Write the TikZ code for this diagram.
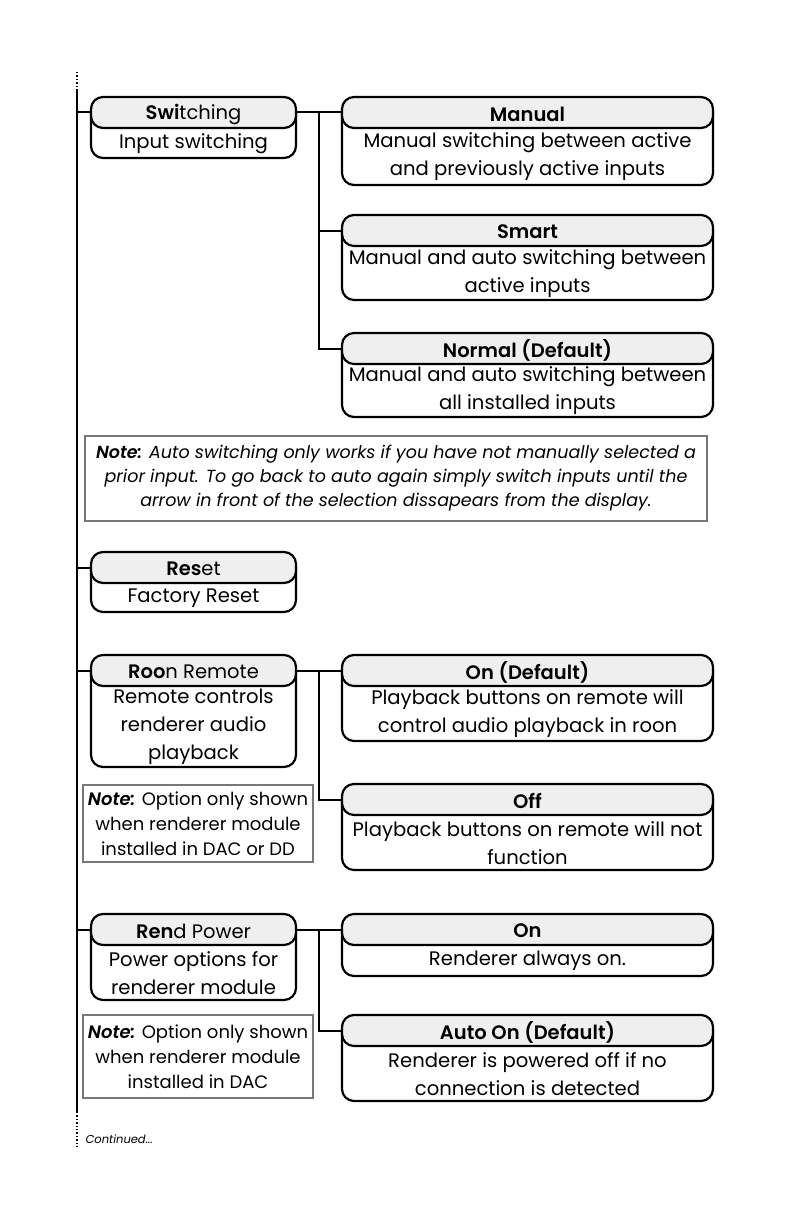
\documentclass[tikz,border=0pt]{standalone}
\usepackage{fontspec}
\setmainfont{Poppins}[BoldFont={Poppins SemiBold}, BoldItalicFont={Poppins SemiBold Italic}]
\usetikzlibrary{calc}
\definecolor{headgray}{HTML}{EFEFEF}
\definecolor{notegray}{HTML}{777777}
\tikzset{
  boxline/.style={line width=2.2pt, line join=round},
  conn/.style={line width=2pt},
  mainline/.style={line width=2.5pt},
  dotline/.style={line width=2pt, dash pattern=on 1.4pt off 2pt},
  notebox/.style={draw=notegray, line width=1.3pt, inner sep=0pt},
  headtext/.style={font=\fontsize{19.5}{24}\selectfont},
  bodytext/.style={font=\fontsize{19.6}{28}\selectfont, align=center},
  notetext/.style={font=\fontsize{17.5}{24}\selectfont\itshape, align=center},
  smallnote/.style={font=\fontsize{18}{25}\selectfont, align=center},
}
% name, x1, y1, x2, y2, header, body
\newcommand{\menubox}[7]{
  \draw[boxline, fill=white, rounded corners=12pt] (#2,#3+15) -- (#2,#5) -- (#4,#5) -- (#4,#3+15);
  \draw[boxline, fill=headgray, rounded corners=12pt] (#2,#3) rectangle (#4,#3+31);
  \node[headtext] (#1-head) at ({(#2+#4)/2},#3+17) {#6};
  \node[bodytext] (#1-body) at ({(#2+#4)/2},{(#3+32+#5)/2}) {#7};
  \coordinate (#1-w) at (#2,#3+15.5);
  \coordinate (#1-e) at (#4,#3+15.5);
}
\begin{document}
\begin{tikzpicture}[x=1pt, y=-1pt]
\useasboundingbox (0,0) rectangle (793,1225);

\coordinate (dottop) at (77,72);
\coordinate (top) at (77,90);
\coordinate (bot) at (77,1112);
\coordinate (dotbot) at (77,1149);
\draw[dotline] (dottop) -- (top);
\draw[mainline] (top) -- (bot);
\draw[dotline] (bot) -- (dotbot);

% left column
\menubox{sw}{91}{97}{296}{158}{\textbf{Swi}tching}{Input switching}
\menubox{res}{91}{552}{296}{612}{\textbf{Res}et}{Factory Reset}
\menubox{roon}{91}{655}{296}{767}{\textbf{Roo}n Remote}{Remote controls\\renderer audio\\playback}
\menubox{rend}{91}{914}{296}{1000}{\textbf{Ren}d Power}{Power options for\\renderer module}

% right column
\menubox{man}{342}{97}{713}{185}{\textbf{Manual}}{Manual switching between active\\and previously active inputs}
\menubox{sma}{342}{215}{713}{300}{\textbf{Smart}}{Manual and auto switching between\\active inputs}
\menubox{nor}{342}{333}{713}{417}{\textbf{Normal (Default)}}{Manual and auto switching between\\all installed inputs}
\menubox{ondef}{342}{655}{713}{741}{\textbf{On (Default)}}{Playback buttons on remote will\\control audio playback in roon}
\menubox{off}{342}{784}{713}{870}{\textbf{Off}}{Playback buttons on remote will not\\function}
\menubox{on}{342}{914}{713}{976}{\textbf{On}}{Renderer always on.}
\menubox{auto}{342}{1015}{713}{1101}{\textbf{Auto On (Default)}}{Renderer is powered off if no\\connection is detected}

% notes
\node[notebox, notetext, minimum width=622pt, minimum height=85pt] (note1) at (396,478.5)
  {\textbf{Note:} Auto switching only works if you have not manually selected a\\
   prior input. To go back to auto again simply switch inputs until the\\
   arrow in front of the selection dissapears from the display.};
\node[notebox, smallnote, minimum width=230pt, minimum height=77pt] (note2) at (198,823.5)
  {\textbf{\itshape Note:} Option only shown\\when renderer module\\installed in DAC or DD};
\node[notebox, smallnote, minimum width=230pt, minimum height=83pt] (note3) at (198,1056.5)
  {\textbf{\itshape Note:} Option only shown\\when renderer module\\installed in DAC};

\node[font=\fontsize{11.5}{14}\selectfont\itshape, anchor=west] (cont) at (82,1139) {Continued...};

% connectors
\foreach \b in {sw,res,roon,rend} {
  \draw[conn] (\b-w -| top) -- (\b-w);
}
\foreach \src/\first/\last in {sw/man/nor, roon/ondef/off, rend/on/auto} {
  \coordinate (\src-j) at ($(\src-e)!0.5!(\first-w)$);
  \draw[conn] (\src-e) -- (\first-w);
  \draw[conn] (\src-j) |- (\last-w);
}
\draw[conn] (sw-j |- sma-w) -- (sma-w);

\end{tikzpicture}
\end{document}
